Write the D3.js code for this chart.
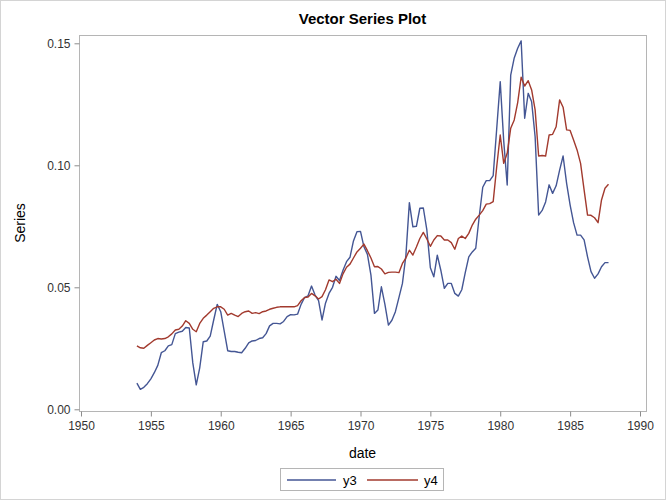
<!DOCTYPE html>
<html>
<head>
<meta charset="utf-8">
<script src="https://cdn.jsdelivr.net/npm/d3@7"></script>
<style>
  html, body { margin: 0; padding: 0; background: #fff; }
  svg { display: block; font-family: "Liberation Sans", Arial, sans-serif; }
</style>
</head>
<body>
<svg id="chart" width="666" height="500"></svg>
<script>
// ---- Data (quarterly, starting 1954 Q1) ----
const startYear = 1954;
const seriesNames = ["y3", "y4"];
const y3 = [
  0.0107,0.0082,0.0090,0.0105,0.0125,0.0150,0.0180,0.0232,0.0240,0.0260,
  0.0265,0.0310,0.0316,0.0320,0.0335,0.0333,0.0190,0.0100,0.0170,0.0277,
  0.0280,0.0300,0.0366,0.0430,0.0400,0.0320,0.0240,0.0237,0.0237,0.0234,
  0.0232,0.0250,0.0272,0.0280,0.0282,0.0290,0.0293,0.0310,0.0342,0.0352,
  0.0352,0.0350,0.0360,0.0380,0.0388,0.0387,0.0390,0.0430,0.0458,0.0465,
  0.0505,0.0468,0.0445,0.0366,0.0435,0.0475,0.0500,0.0545,0.0528,0.0570,
  0.0605,0.0623,0.0690,0.0728,0.0729,0.0666,0.0635,0.0550,0.0393,0.0407,
  0.0502,0.0430,0.0345,0.0365,0.0400,0.0458,0.0516,0.0630,0.0847,0.0748,
  0.0750,0.0824,0.0825,0.0735,0.0580,0.0543,0.0632,0.0570,0.0496,0.0516,
  0.0516,0.0475,0.0464,0.0490,0.0560,0.0625,0.0645,0.0660,0.0790,0.0910,
  0.0937,0.0937,0.0958,0.1150,0.1343,0.1100,0.0919,0.1370,0.1440,0.1480,
  0.1510,0.1193,0.1295,0.1260,0.1117,0.0796,0.0815,0.0850,0.0920,0.0885,
  0.0916,0.0980,0.1038,0.0926,0.0837,0.0765,0.0714,0.0714,0.0694,0.0625,
  0.0564,0.0537,0.0555,0.0584,0.0601,0.0601
];
const y4 = [
  0.0260,0.0252,0.0250,0.0262,0.0273,0.0284,0.0290,0.0288,0.0290,0.0297,
  0.0309,0.0325,0.0328,0.0341,0.0363,0.0352,0.0328,0.0318,0.0352,0.0373,
  0.0386,0.0400,0.0414,0.0420,0.0420,0.0410,0.0386,0.0393,0.0386,0.0380,
  0.0393,0.0400,0.0403,0.0393,0.0396,0.0392,0.0400,0.0403,0.0410,0.0414,
  0.0418,0.0420,0.0420,0.0420,0.0420,0.0420,0.0425,0.0445,0.0458,0.0460,
  0.0475,0.0465,0.0452,0.0462,0.0490,0.0530,0.0523,0.0533,0.0516,0.0555,
  0.0582,0.0595,0.0620,0.0645,0.0660,0.0677,0.0650,0.0620,0.0584,0.0585,
  0.0575,0.0555,0.0561,0.0562,0.0562,0.0560,0.0598,0.0620,0.0652,0.0632,
  0.0665,0.0700,0.0725,0.0698,0.0668,0.0694,0.0712,0.0710,0.0694,0.0694,
  0.0683,0.0656,0.0700,0.0710,0.0700,0.0721,0.0755,0.0779,0.0796,0.0814,
  0.0841,0.0843,0.0851,0.0994,0.1124,0.1008,0.1049,0.1152,0.1186,0.1257,
  0.1361,0.1325,0.1347,0.1309,0.1227,0.1038,0.1040,0.1038,0.1124,0.1127,
  0.1158,0.1268,0.1238,0.1145,0.1143,0.1104,0.1063,0.1008,0.0899,0.0796,
  0.0795,0.0785,0.0765,0.0858,0.0906,0.0922
];
const xTickYears = [1950, 1955, 1960, 1965, 1970, 1975, 1980, 1985, 1990];
const yTicks = [0.00, 0.05, 0.10, 0.15];
const colors = ["#445694", "#A23A2E"];

// quarterly dates
const dates = y3.map((_, i) => new Date(startYear + Math.floor(i / 4), (i % 4) * 3, 1));
const series = [y3, y4].map((vals, k) => ({
  name: seriesNames[k], color: colors[k],
  points: vals.map((v, i) => ({ date: dates[i], value: v }))
}));

// ---- Layout ----
const svg = d3.select("#chart");
const frame = { left: 79, right: 646, top: 35, bottom: 411 };

svg.append("rect").attr("x", 0.5).attr("y", 0.5).attr("width", 665).attr("height", 499)
  .attr("fill", "#fff").attr("stroke", "#d4d4d4");

const x = d3.scaleTime()
  .domain([new Date(1950, 0, 1), new Date(1990, 0, 1)])
  .range([81, 640]);
const y = d3.scaleLinear().domain([0, 0.15]).range([409.3, 43.3]);

// plot frame
svg.append("rect")
  .attr("x", frame.left + 0.5).attr("y", frame.top + 0.5)
  .attr("width", frame.right - frame.left).attr("height", frame.bottom - frame.top)
  .attr("fill", "none").attr("stroke", "#b5b5b5");

// X axis
const xAxis = d3.axisBottom(x)
  .tickValues(xTickYears.map(yr => new Date(yr, 0, 1)))
  .tickFormat(d3.timeFormat("%Y"))
  .tickSizeOuter(0).tickSize(5).tickPadding(5);
const gx = svg.append("g").attr("transform", `translate(0,${frame.bottom + 0.5})`).call(xAxis);
gx.select(".domain").remove();
gx.selectAll(".tick line").attr("stroke", "#8c8c8c");
gx.selectAll(".tick text").attr("fill", "#333").style("font-size", "12px")
  .style("font-family", "Liberation Sans, Arial, sans-serif");

// Y axis
const yAxis = d3.axisLeft(y).tickValues(yTicks).tickFormat(d3.format(".2f"))
  .tickSizeOuter(0).tickSize(5).tickPadding(4);
const gy = svg.append("g").attr("transform", `translate(${frame.left + 0.5},0)`).call(yAxis);
gy.select(".domain").remove();
gy.selectAll(".tick line").attr("stroke", "#8c8c8c");
gy.selectAll(".tick text").attr("fill", "#333").style("font-size", "12px")
  .style("font-family", "Liberation Sans, Arial, sans-serif");

// Lines
const line = d3.line().x(d => x(d.date)).y(d => y(d.value));
svg.append("g").selectAll("path").data(series).join("path")
  .attr("d", d => line(d.points))
  .attr("fill", "none")
  .attr("stroke", d => d.color)
  .attr("stroke-width", 1.4)
  .attr("stroke-linejoin", "round");

// Title
svg.append("text").attr("x", (frame.left + frame.right) / 2).attr("y", 24)
  .attr("text-anchor", "middle").style("font-size", "15px").style("font-weight", "bold")
  .attr("fill", "#000").text("Vector Series Plot");

// Axis labels
svg.append("text").attr("x", (frame.left + frame.right) / 2).attr("y", 458)
  .attr("text-anchor", "middle").style("font-size", "14px").attr("fill", "#000").text("date");
svg.append("text")
  .attr("transform", `translate(25,${(frame.top + frame.bottom) / 2}) rotate(-90)`)
  .attr("text-anchor", "middle").style("font-size", "14px").attr("fill", "#000").text("Series");

// Legend
const lg = svg.append("g");
lg.append("rect").attr("x", 280.5).attr("y", 468.5).attr("width", 163).attr("height", 22)
  .attr("fill", "#fff").attr("stroke", "#b5b5b5");
const legendItems = [
  { name: seriesNames[0], color: colors[0], x0: 287, x1: 336, tx: 343 },
  { name: seriesNames[1], color: colors[1], x0: 367, x1: 418, tx: 424 }
];
legendItems.forEach(it => {
  lg.append("line").attr("x1", it.x0).attr("x2", it.x1).attr("y1", 480).attr("y2", 480)
    .attr("stroke", it.color).attr("stroke-width", 1.4);
  lg.append("text").attr("x", it.tx).attr("y", 484.5).style("font-size", "13px")
    .attr("fill", "#000").text(it.name);
});
</script>
</body>
</html>
